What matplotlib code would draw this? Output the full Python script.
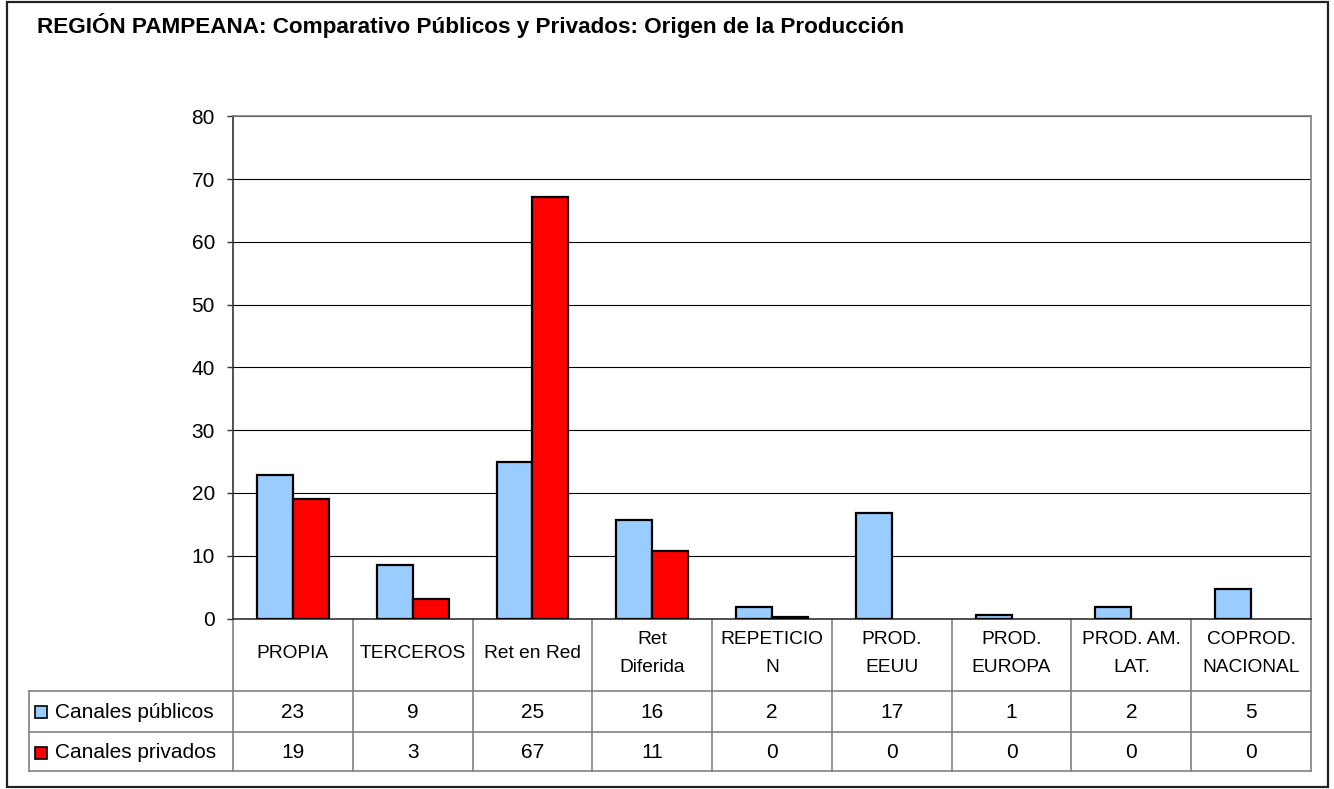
import matplotlib
matplotlib.use("Agg")
import matplotlib.pyplot as plt
from matplotlib import transforms
from matplotlib.patches import Rectangle

plt.rcParams["font.family"] = ["Liberation Sans", "DejaVu Sans"]

title = "REGIÓN PAMPEANA: Comparativo Públicos y Privados: Origen de la Producción"
categories = ["PROPIA", "TERCEROS", "Ret en Red", "Ret\nDiferida", "REPETICIO\nN",
              "PROD.\nEEUU", "PROD.\nEUROPA", "PROD. AM.\nLAT.", "COPROD.\nNACIONAL"]
series_names = ["Canales públicos", "Canales privados"]
series_colors = ["#99CCFF", "#FF0000"]
# bar heights (table shows rounded values)
publicos = [22.9, 8.6, 24.9, 15.7, 1.8, 16.8, 0.6, 1.8, 4.7]
privados = [19.1, 3.1, 67.2, 10.7, 0.3, 0, 0, 0, 0]
publicos_tabla = [23, 9, 25, 16, 2, 17, 1, 2, 5]
privados_tabla = [19, 3, 67, 11, 0, 0, 0, 0, 0]
yticks = [0, 10, 20, 30, 40, 50, 60, 70, 80]

W, H = 1334, 789
fig = plt.figure(figsize=(W / 100, H / 100), dpi=100)

# pixel layout
px_left, px_right, px_top, px_zero = 233, 1311, 116.5, 618.5
row_lines = [690.5, 732, 771]
leg_left = 29

ov = fig.add_axes([0, 0, 1, 1], zorder=0)
ov.set_xlim(0, W)
ov.set_ylim(H, 0)
ov.axis("off")

ax = fig.add_axes([px_left / W, 1 - px_zero / H,
                   (px_right - px_left) / W, (px_zero - px_top) / H], zorder=1)
ax.patch.set_alpha(0)

n = len(categories)
x = list(range(n))
w = 0.3
for vals, off, col in [(publicos, -w / 2, series_colors[0]), (privados, w / 2, series_colors[1])]:
    edges = ["black" if v > 0 else "none" for v in vals]
    ax.bar([i + off for i in x], vals, width=w, color=col, edgecolor=edges,
           linewidth=1.6, zorder=3)

ax.set_xlim(-0.5, n - 0.5)
ax.set_ylim(0, 80)
ax.set_yticks(yticks)
ax.set_yticklabels([str(t) for t in yticks], fontsize=15)
ax.tick_params(axis="y", length=4, width=1, color="#333333", pad=9)
ax.set_xticks([])
ax.yaxis.grid(True, color="black", linewidth=0.8)
ax.set_axisbelow(True)
for s in ["top", "right"]:
    ax.spines[s].set_color("#808080")
    ax.spines[s].set_linewidth(1.2)
ax.spines["left"].set_color("#333333")
ax.spines["bottom"].set_color("#333333")
ax.spines["left"].set_linewidth(1.2)
ax.spines["bottom"].set_linewidth(1.2)

# data table under the chart
bl = transforms.blended_transform_factory(ax.transData, ov.transData)
tcol = "#808080"
for b in [i - 0.5 for i in range(n + 1)]:
    ov.plot([b, b], [px_zero, row_lines[-1]], color=tcol, lw=1.2, transform=bl)
for y in row_lines:
    ov.plot([leg_left, px_right], [y, y], color=tcol, lw=1.2)
ov.plot([leg_left, leg_left], [row_lines[0], row_lines[-1]], color=tcol, lw=1.2)

for i, cat in enumerate(categories):
    ov.text(i, (px_zero + row_lines[0]) / 2 - 1, cat, transform=bl, ha="center",
            va="center", fontsize=13.8, linespacing=1.9)

row_c = [(row_lines[0] + row_lines[1]) / 2 + 1, (row_lines[1] + row_lines[2]) / 2 + 1]
for r, (vals, name, col) in enumerate([(publicos_tabla, series_names[0], series_colors[0]),
                                       (privados_tabla, series_names[1], series_colors[1])]):
    for i, v in enumerate(vals):
        ov.text(i, row_c[r], str(v), transform=bl, ha="center", va="center", fontsize=15)
    ov.add_patch(Rectangle((35, row_c[r] - 6), 12, 12, facecolor=col,
                           edgecolor="black", lw=1.2))
    ov.text(55, row_c[r], name, ha="left", va="center", fontsize=15)

# title and outer frame
ov.text(37, 25, title, ha="left", va="center", fontsize=16.2, fontweight="bold")
ov.add_patch(Rectangle((7, 2), 1321, 785, facecolor="none", edgecolor="#222222", lw=1.6))

fig.savefig("out.png", dpi=100)
